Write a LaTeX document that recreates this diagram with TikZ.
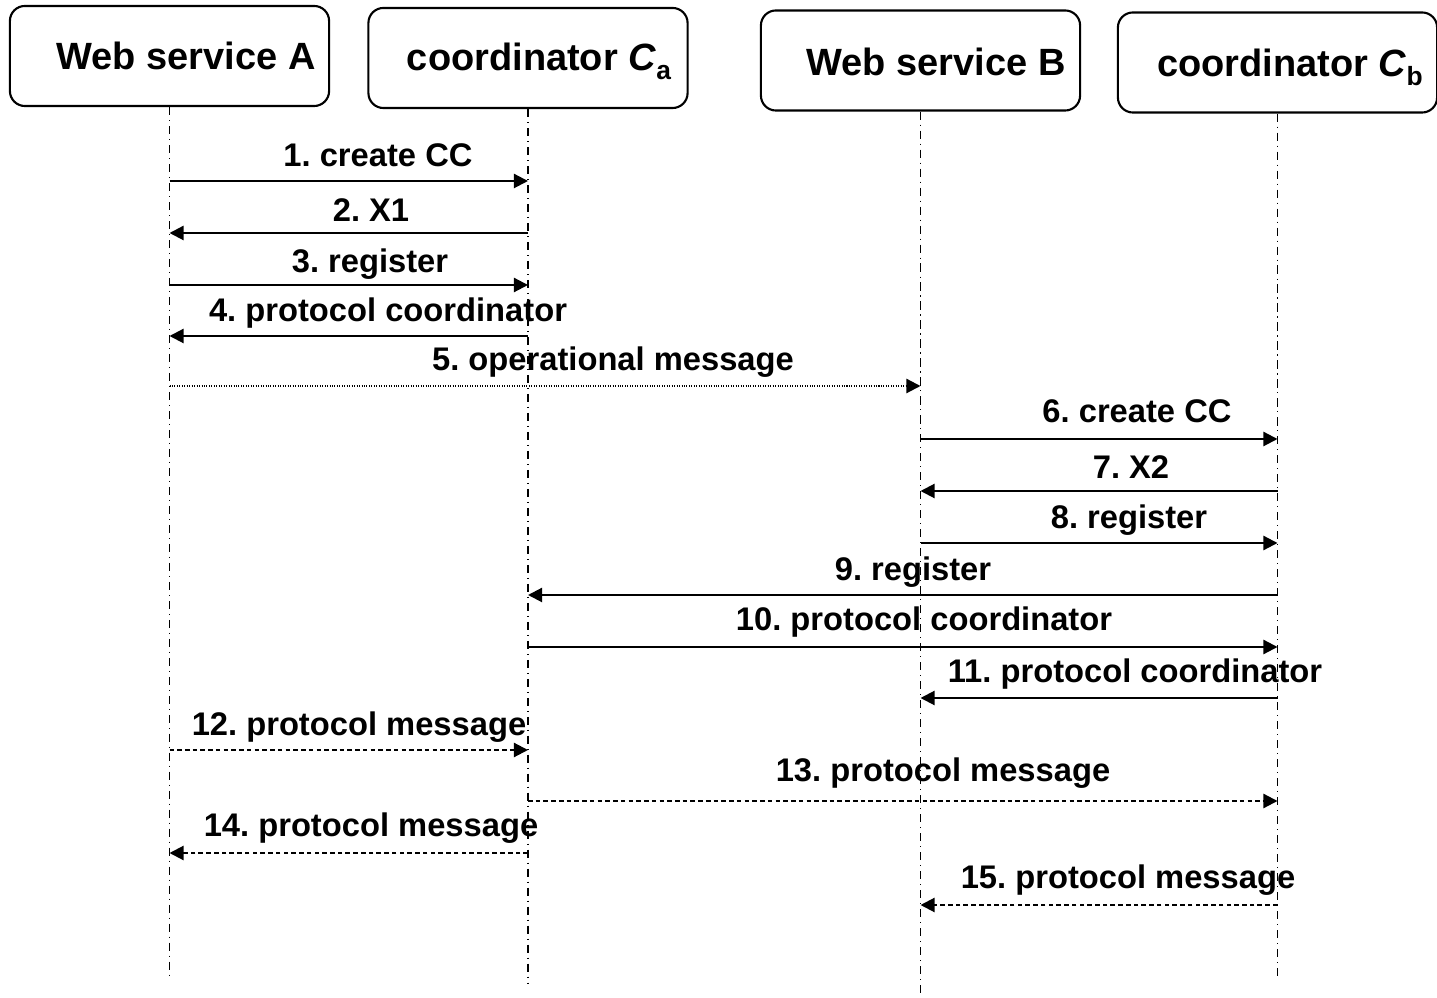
\documentclass[tikz,border=0pt]{standalone}
\usepackage{fontspec}
\setmainfont{Liberation Sans}
\usetikzlibrary{arrows.meta}
\frenchspacing

\newcommand{\lowsub}[1]{\raisebox{-0.45ex}{\fontsize{7.5}{8}\selectfont #1}}

\tikzset{
    actor/.style={draw, line width=0.6pt, rounded corners=0.15cm, minimum width=3.19cm, minimum height=1cm, inner sep=0pt},
    actorlbl/.style={font=\fontsize{10.8}{12}\selectfont\bfseries, inner sep=0pt},
    lifeline/.style={line width=0.3pt, dash pattern=on 2.3pt off 1.4pt on 0.3pt off 1.4pt},
    msg/.style={line width=0.6pt, -{Triangle[length=4pt,width=4pt]}},
    opmsg/.style={msg, dash pattern=on 0.3pt off 0.4pt},
    protmsg/.style={msg, dash pattern=on 1.3pt off 0.9pt},
    msglbl/.style={font=\fontsize{9.3}{11}\selectfont\bfseries, inner sep=0pt}
}

\begin{document}
\begin{tikzpicture}[x=0.01cm, y=-0.01cm]
\useasboundingbox (0,0) rectangle (1437,998);

% participants
\node[actor] (wsA) at (169.5,56) {};
\node[actor] (coA) at (528,58) {};
\node[actor] (wsB) at (920.5,60.5) {};
\node[actor] (coB) at (1277.5,62.5) {};

\node[actorlbl] (wsAlbl) at (186,56) {Web service A};
\node[actorlbl] (coAlbl) at (539,61) {coordinator \textit{C}\lowsub{a}};
\node[actorlbl] (wsBlbl) at (936,62) {Web service B};
\node[actorlbl] (coBlbl) at (1290,67) {coordinator \textit{C}\lowsub{b}};

% lifelines
\coordinate (wsAend) at (169.5,980);
\coordinate (coAend) at (528,983);
\coordinate (wsBend) at (920.5,998);
\coordinate (coBend) at (1277.5,978);

\draw[lifeline] (wsA.south) -- (wsAend);
\draw[lifeline] (coA.south) -- (coAend);
\draw[lifeline] (wsB.south) -- (wsBend);
\draw[lifeline] (coB.south) -- (coBend);

% messages
\draw[msg] (wsA |- 0,181) -- (coA |- 0,181);
\node[msglbl] (m1) at (378,155) {1. create CC};

\draw[msg] (coA |- 0,233) -- (wsA |- 0,233);
\node[msglbl] (m2) at (371,210) {2. X1};

\draw[msg] (wsA |- 0,285) -- (coA |- 0,285);
\node[msglbl] (m3) at (370,264) {3. register};

\draw[msg] (coA |- 0,336) -- (wsA |- 0,336);
\node[msglbl] (m4) at (388,313) {4. protocol coordinator};

\draw[opmsg] (wsA |- 0,386) -- (wsB |- 0,386);
\node[msglbl] (m5) at (613,362) {5. operational message};

\draw[msg] (wsB |- 0,439) -- (coB |- 0,439);
\node[msglbl] (m6) at (1137,411) {6. create CC};

\draw[msg] (coB |- 0,491) -- (wsB |- 0,491);
\node[msglbl] (m7) at (1131,467) {7. X2};

\draw[msg] (wsB |- 0,543) -- (coB |- 0,543);
\node[msglbl] (m8) at (1129,520) {8. register};

\draw[msg] (coB |- 0,595) -- (coA |- 0,595);
\node[msglbl] (m9) at (913,572) {9. register};

\draw[msg] (coA |- 0,647) -- (coB |- 0,647);
\node[msglbl] (m10) at (924,622) {10. protocol coordinator};

\draw[msg] (coB |- 0,698) -- (wsB |- 0,698);
\node[msglbl] (m11) at (1135,674) {11. protocol coordinator};

\draw[protmsg] (wsA |- 0,750) -- (coA |- 0,750);
\node[msglbl] (m12) at (359,727) {12. protocol message};

\draw[protmsg] (coA |- 0,801) -- (coB |- 0,801);
\node[msglbl] (m13) at (943,773) {13. protocol message};

\draw[protmsg] (coA |- 0,853) -- (wsA |- 0,853);
\node[msglbl] (m14) at (371,828) {14. protocol message};

\draw[protmsg] (coB |- 0,905) -- (wsB |- 0,905);
\node[msglbl] (m15) at (1128,880) {15. protocol message};

\end{tikzpicture}
\end{document}
